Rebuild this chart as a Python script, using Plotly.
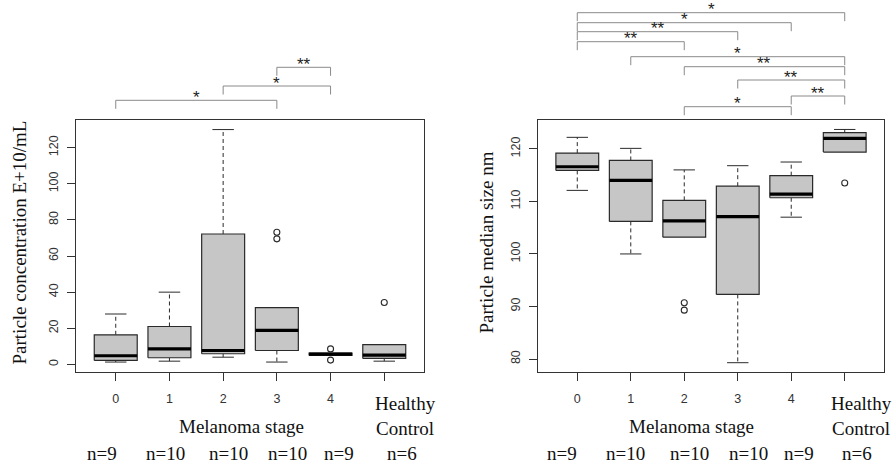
import plotly.graph_objects as go

# ---------------- data ----------------
groups = ["0", "1", "2", "3", "4", "Healthy Control"]
n_counts = [9, 10, 10, 10, 9, 6]
tick_text = ["0", "1", "2", "3", "4", ""]

# Panel A: particle concentration (E+10/mL)
conc_q1 = [2.2, 3.7, 5.9, 7.7, 5.0, 3.3]
conc_med = [4.8, 8.6, 7.7, 18.8, 5.7, 5.1]
conc_q3 = [16.4, 21.0, 72.2, 31.4, 6.3, 11.0]
conc_low = [1.3, 1.8, 4.0, 1.3, 5.0, 1.8]
conc_high = [27.9, 40.0, 130.0, 31.4, 6.3, 11.0]
conc_out_group = [3, 3, 4, 4, 5]
conc_out_val = [73.2, 69.5, 8.6, 2.4, 34.3]

# Panel B: particle median size (nm)
size_q1 = [115.9, 106.2, 103.2, 92.3, 110.7, 119.4]
size_med = [116.6, 114.0, 106.3, 107.1, 111.4, 122.0]
size_q3 = [119.2, 117.8, 110.2, 112.9, 114.9, 123.1]
size_low = [112.1, 100.0, 103.2, 79.3, 107.0, 119.4]
size_high = [122.2, 120.1, 116.0, 116.8, 117.5, 123.7]
size_out_group = [2, 2, 5]
size_out_val = [90.7, 89.3, 113.5]

# significance comparisons (group a, group b, label)
conc_tests = [(0, 3, "*"), (2, 4, "*"), (3, 4, "**")]
size_tests = [(0, 5, "*"), (0, 4, "*"), (0, 3, "**"), (0, 2, "**"), (1, 5, "*"),
              (2, 5, "**"), (3, 5, "**"), (4, 5, "**"), (2, 4, "*")]

# ---------------- layout constants ----------------
W, H = 894, 464
conc_bar_px = [100.3, 86.0, 67.3]
size_bar_px = [12.7, 22.7, 31.7, 41.7, 56.7, 66.7, 80.0, 96.0, 106.7]
LEG = 8.5
STAR_UP = 3.0

BOXW = 0.4
CAPW = 0.2
FILL = "#c6c6c6"
EDGE = "#2a2a2a"
SERIF = "Liberation Serif"
SANS = "Liberation Sans"


def py(px):
    return (H - px) / H


def px_x(px):
    return px / W


fig = go.Figure()


def add_boxes(xa, ya, q1, med, q3, low, high, og, ov):
    bx, by = [], []
    mx, my = [], []
    wx, wy = [], []
    cx, cy = [], []
    for i in range(len(q1)):
        bx += [i - BOXW, i + BOXW, i + BOXW, i - BOXW, i - BOXW, None]
        by += [q1[i], q1[i], q3[i], q3[i], q1[i], None]
        mx += [i - BOXW, i + BOXW, None]
        my += [med[i], med[i], None]
        if high[i] > q3[i]:
            wx += [i, i, None]
            wy += [q3[i], high[i], None]
            cx += [i - CAPW, i + CAPW, None]
            cy += [high[i], high[i], None]
        if low[i] < q1[i]:
            wx += [i, i, None]
            wy += [q1[i], low[i], None]
            cx += [i - CAPW, i + CAPW, None]
            cy += [low[i], low[i], None]
    common = dict(xaxis=xa, yaxis=ya, showlegend=False, hoverinfo="skip", mode="lines")
    fig.add_trace(go.Scatter(x=wx, y=wy, line=dict(color=EDGE, width=1, dash="4px,3px"), **common))
    fig.add_trace(go.Scatter(x=cx, y=cy, line=dict(color=EDGE, width=1), **common))
    fig.add_trace(go.Scatter(x=bx, y=by, fill="toself", fillcolor=FILL,
                             line=dict(color=EDGE, width=1.2), **common))
    fig.add_trace(go.Scatter(x=mx, y=my, line=dict(color="#000000", width=3.2), **common))
    fig.add_trace(go.Scatter(x=og, y=ov, xaxis=xa, yaxis=ya, mode="markers", showlegend=False,
                             hoverinfo="skip",
                             marker=dict(symbol="circle-open", size=6,
                                         line=dict(color=EDGE, width=1.1), color=EDGE)))


add_boxes("x", "y", conc_q1, conc_med, conc_q3, conc_low, conc_high, conc_out_group, conc_out_val)
add_boxes("x2", "y2", size_q1, size_med, size_q3, size_low, size_high, size_out_group, size_out_val)

shapes = []
annotations = []


def add_brackets(xref, tests, bars):
    for (a, b, lab), bar in zip(tests, bars):
        yb = py(bar)
        yl = py(bar + LEG)
        for (x0, y0, x1, y1) in [(a, yl, a, yb), (a, yb, b, yb), (b, yb, b, yl)]:
            shapes.append(dict(type="line", xref=xref, yref="paper", x0=x0, x1=x1,
                               y0=y0, y1=y1, line=dict(color="#8a8a8a", width=1)))
        annotations.append(dict(xref=xref, yref="paper", x=(a + b) / 2, y=py(bar - STAR_UP),
                                text=lab, showarrow=False, xanchor="center", yanchor="middle",
                                font=dict(family=SANS, size=17, color="#222222")))


add_brackets("x", conc_tests, conc_bar_px)
add_brackets("x2", size_tests, size_bar_px)

# bottom text labels
label_font = dict(family=SERIF, size=19, color="#111111")
panel_specs = [
    # (melanoma stage x, healthy x, n-label x positions, y-title x, y-title text)
    (241.0, 405.5, [101.7, 165.0, 229.0, 287.7, 339.0, 402.0], 19.0, "Particle concentration E+10/mL"),
    (691.0, 861.3, [561.5, 625.3, 689.3, 748.7, 798.5, 857.3], 486.0, "Particle median size nm"),
]
for mx_, hx, nxs, tx, title in panel_specs:
    annotations.append(dict(xref="paper", yref="paper", x=px_x(mx_), y=py(426.7),
                            text="Melanoma stage", showarrow=False, xanchor="center",
                            yanchor="middle", font=label_font))
    annotations.append(dict(xref="paper", yref="paper", x=px_x(hx), y=py(415.5),
                            text="Healthy<br>Control", showarrow=False, xanchor="center",
                            yanchor="middle", font=label_font))
    for nx, n in zip(nxs, n_counts):
        annotations.append(dict(xref="paper", yref="paper", x=px_x(nx), y=py(453.3),
                                text=f"n={n}", showarrow=False, xanchor="center",
                                yanchor="middle", font=label_font))
    annotations.append(dict(xref="paper", yref="paper", x=px_x(tx), y=py(242.5),
                            text=title, textangle=-90, showarrow=False, xanchor="center",
                            yanchor="middle", font=label_font))

axis_common = dict(showgrid=False, zeroline=False, showline=True, mirror=True,
                   linecolor="#333333", linewidth=1, ticks="outside", ticklen=8,
                   tickcolor="#333333", tickwidth=1,
                   tickfont=dict(family=SANS, size=12.5, color="#333333"))

xpos = list(range(len(groups)))
fig.update_layout(
    width=W, height=H,
    margin=dict(l=0, r=0, t=0, b=0),
    paper_bgcolor="white", plot_bgcolor="white",
    showlegend=False,
    xaxis=dict(domain=[76 / W, 424 / W], range=[-0.74, 5.74], anchor="y",
               tickmode="array", tickvals=xpos, ticktext=tick_text, ticklabelstandoff=7,
               **axis_common),
    yaxis=dict(domain=[py(372), py(120)], range=[-4.2, 135.3], anchor="x",
               tickmode="array", tickvals=[0, 20, 40, 60, 80, 100, 120], tickangle=-90,
               ticklabelstandoff=4, **axis_common),
    xaxis2=dict(domain=[537.7 / W, 884.3 / W], range=[-0.74, 5.74], anchor="y2",
                tickmode="array", tickvals=xpos, ticktext=tick_text, ticklabelstandoff=7,
                **axis_common),
    yaxis2=dict(domain=[py(372.3), py(120)], range=[77.47, 125.5], anchor="x2",
                tickmode="array", tickvals=[80, 90, 100, 110, 120], tickangle=-90,
                ticklabelstandoff=4, **axis_common),
    shapes=shapes,
    annotations=annotations,
)

fig.write_html("out.html")
